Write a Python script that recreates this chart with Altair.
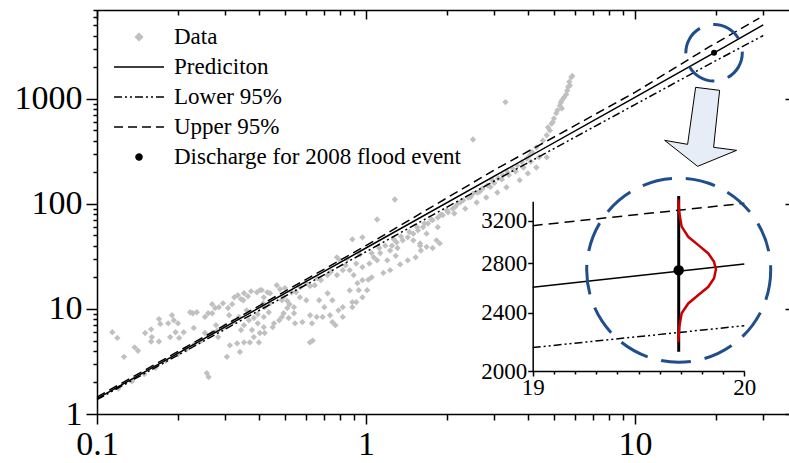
import altair as alt
import pandas as pd

FONT = "Liberation Serif"
GRAY = "#c0c0c0"
BLUE = "#1f4e8c"

# ---------------- data ----------------
data_x = [0.114, 0.119, 0.126, 0.138, 0.142, 0.151, 0.159, 0.160, 0.159, 0.170, 0.172, 0.170, 0.184, 0.190,
          0.193, 0.200, 0.187, 0.196, 0.202, 0.210, 0.229, 0.222, 0.227, 0.235, 0.252, 0.259, 0.268, 0.275,
          0.284, 0.294, 0.307, 0.318, 0.256, 0.260, 0.252, 0.268, 0.282, 0.297, 0.277, 0.304, 0.312, 0.310,
          0.268, 0.12, 0.135, 0.15, 0.165, 0.18, 0.2, 0.215, 0.23, 0.245, 0.26, 0.28, 0.3, 0.32,
          0.332, 0.352, 0.370, 0.383, 0.400, 0.403, 0.417, 0.396, 0.377, 0.343, 0.352, 0.367, 0.383, 0.396,
          0.417, 0.324, 0.334, 0.343, 0.352, 0.364, 0.374, 0.393, 0.403, 0.417, 0.440, 0.466, 0.479, 0.494,
          0.510, 0.520, 0.540, 0.494, 0.476, 0.516, 0.540, 0.455, 0.420, 0.435, 0.337, 0.360,
          0.340, 0.619, 0.634, 0.420, 0.450, 0.487, 0.545, 0.580, 0.620, 0.656, 0.690, 0.750, 0.770, 0.820,
          0.890, 0.920, 0.970, 0.940, 1.01, 1.05, 1.16, 1.10, 1.20, 1.29, 0.67, 0.70, 0.72, 0.75, 0.60,
          0.568, 0.51, 0.487, 0.44, 0.415, 0.35, 0.41, 0.43, 0.50, 0.53, 0.57, 0.60, 0.645, 0.68, 0.72,
          0.78, 0.82, 0.87, 0.90, 0.92, 0.97, 1.03, 1.07, 1.13, 1.23, 1.31, 0.78, 0.80, 0.85, 0.89, 0.97,
          1.10, 1.28,
          0.87, 0.93, 0.97, 1.02, 1.23, 1.34, 1.43, 1.53, 1.60, 1.77, 1.88, 0.63, 0.735, 0.79, 0.82, 0.89,
          1.59, 1.68, 1.83,
          1.25, 1.30, 1.37, 1.43, 1.50, 1.56, 1.63, 1.70, 1.77, 1.85, 1.93, 2.02, 2.10, 2.20, 2.30, 2.40,
          2.50, 2.60, 2.71, 2.83, 2.95, 3.10, 3.23, 3.36, 3.50, 3.65, 3.80, 3.96, 4.07, 4.15, 4.30,
          1.85, 1.68, 1.59, 1.50, 2.13, 2.34, 2.58, 2.80, 3.08, 3.33, 3.73, 4.00, 4.30, 4.70,
          4.55, 4.70, 4.83, 4.75, 4.90, 4.95, 5.00, 5.10, 5.15, 5.35, 5.26, 5.30, 5.35, 5.45, 5.55, 5.60,
          5.73, 5.65, 5.70, 5.80, 5.85,
          3.3, 2.5,
          1.05, 1.12, 1.18, 1.27, 1.35, 1.45, 1.55, 1.65, 1.75, 1.90, 2.00, 2.15, 2.25, 2.45, 2.65, 2.90,
          3.00, 3.20, 3.40, 3.60, 3.85, 4.10, 4.40, 0.55, 0.62, 0.66, 0.74, 0.84, 0.95]
data_y = [6.0, 5.3, 3.5, 4.3, 4.0, 5.9, 6.4, 5.4, 4.9, 8.0, 7.2, 4.9, 7.3, 8.7,
          7.8, 7.3, 5.4, 6.0, 5.3, 6.0, 6.6, 9.3, 9.1, 9.3, 8.4, 9.1, 11.1, 10.2,
          10.4, 11.3, 10.2, 11.1, 2.45, 2.25, 5.9, 5.9, 5.4, 6.7, 7.0, 3.5, 4.5, 8.7,
          9.1, 1.75, 2.05, 2.4, 2.75, 3.2, 3.7, 4.1, 4.6, 5.0, 5.5, 6.2, 6.9, 7.5,
          4.7, 4.8, 4.8, 5.4, 4.8, 5.9, 6.7, 7.3, 6.3, 6.3, 7.0, 7.8, 8.2, 8.9,
          8.4, 12.9, 13.5, 12.4, 14.1, 13.2, 14.7, 14.4, 15.1, 12.9, 14.1, 16.8, 15.4, 12.9,
          11.9, 11.1, 10.4, 9.1, 7.8, 8.2, 9.1, 7.3, 10.4, 9.3, 8.4, 9.7,
          3.9, 4.8, 5.0, 5.9, 6.7, 8.4, 7.3, 7.5, 8.7, 8.4, 8.4, 7.5, 7.0, 8.4,
          10.4, 11.6, 12.9, 15.1, 15.1, 20, 22, 29, 29, 32, 12.1, 10.4, 14.1, 12.1, 12.1,
          12.9, 10.2, 12.1, 11.3, 11.3, 12.1, 15.1, 14.4, 15.8, 14.4, 16.1, 17.6, 16.8, 18.8, 21,
          21, 23.4, 23.4, 21, 27, 25, 27, 31, 34, 36, 38, 31, 29, 30, 46, 48,
          71, 110,
          15, 17.6, 18.8, 19, 23.4, 26.5, 29, 31, 36, 38, 42, 7.3, 8.7, 9.7, 10.4, 11.6,
          42, 39, 45,
          40, 43, 45, 48, 52, 56, 60, 65, 70, 74, 78, 83, 90, 101, 108, 115,
          125, 128, 140, 150, 168, 175, 187, 200, 218, 232, 250, 270, 290, 310, 345,
          60, 52, 40, 45, 81, 90, 103, 115, 128, 144, 168, 195, 222, 277,
          400, 450, 500, 535, 580, 600, 650, 730, 776, 810, 860, 920, 966, 1030, 1100, 1200,
          1340, 1300, 1450, 1600, 1650,
          930, 410,
          34, 38, 40, 46, 49, 54, 60, 65, 71, 79, 87, 94, 104, 116, 131, 145,
          158, 171, 188, 203, 222, 252, 278, 14.5, 16.5, 19.5, 22.5, 26, 33]

pred_x = [0.1, 1, 10, 19, 20, 30]
pred_y = [1.4, 38, 1030, 2600, 2795, 5050]
lower_x = [0.1, 1, 3, 10, 19, 20, 30]
lower_y = [1.37, 35, 165, 880, 2150, 2305, 4000]
upper_x = [0.1, 1, 3, 10, 19, 20, 29]
upper_y = [1.45, 40, 210, 1150, 3150, 3380, 5850]

flood_x = [19.69]
flood_y = [2740]

arrow_x = [17.4]
arrow_y = [535]

inset_x = [19, 20]
inset_pred = [2598, 2794]
inset_upper = [3150, 3378]
inset_lower = [2152, 2304]
bar_low = [2124]
bar_high = [3455]
curve_x = [19.688, 19.693, 19.704, 19.735, 19.783, 19.830, 19.857, 19.866, 19.857, 19.830, 19.783,
           19.735, 19.704, 19.693, 19.688]
curve_y = [3420, 3274, 3140, 3042, 2964, 2888, 2813, 2748, 2672, 2602, 2536, 2470, 2396, 2296, 2188]

X_TICKS = [0.1, 0.2, 0.3, 0.4, 0.5, 0.6, 0.7, 0.8, 0.9, 1, 2, 3, 4, 5, 6, 7, 8, 9, 10, 20, 30]
X_MAJOR = [0.1, 1, 10]
Y_TICKS = [1, 2, 3, 4, 5, 6, 7, 8, 9, 10, 20, 30, 40, 50, 60, 70, 80, 90,
           100, 200, 300, 400, 500, 600, 700, 800, 900, 1000, 2000, 3000, 4000, 5000, 6000, 7000]
Y_MAJOR = [1, 10, 100, 1000]
INSET_X_TICKS = [19, 19.1, 19.2, 19.3, 19.4, 19.5, 19.6, 19.7, 19.8, 19.9, 20]
INSET_X_MAJOR = [19, 20]
INSET_Y_TICKS = [2000, 2400, 2800, 3200]

SERIES = ["Data", "Prediciton", "Lower 95%", "Upper 95%", "Discharge for 2008 flood event"]

# ---------------- styles ----------------
DASH_UP = [9, 5]
DASH_LOW = [8, 3, 2, 3, 2, 3]
ARROW_PATH = "M-0.1,-1L0.5,-0.925L0.35,0.5L0.925,0.575L-0.05,0.975L-0.875,0.325L-0.3,0.425Z"
LINE_PATH = "M-1,0L1,0"
DIAMOND_PATH = "M0,-0.14L0.14,0L0,0.14L-0.14,0Z"
DOT_PATH = "M0.12,0A0.12,0.12,0,1,1,-0.12,0A0.12,0.12,0,1,1,0.12,0Z"


def is_in(lst):
    return "indexof(" + str(lst) + ", datum.value) >= 0"


common = dict(grid=False, title=None, labelFont=FONT, labelColor="black", tickColor="black",
              domainColor="black", domainWidth=1.5, tickWidth=1.5, labelFlush=False, labelOverlap=False)

x_axis = alt.Axis(orient="bottom", values=X_TICKS, labelFontSize=34, labelPadding=3,
                  labelExpr=is_in(X_MAJOR) + " ? format(datum.value, '~g') : ''",
                  tickSize=alt.ExprRef(expr=is_in(X_MAJOR) + " ? 10 : 6"), **common)
y_axis = alt.Axis(orient="left", values=Y_TICKS, labelFontSize=34, labelPadding=4,
                  labelExpr=is_in(Y_MAJOR) + " ? format(datum.value, 'd') : ''",
                  tickSize=alt.ExprRef(expr=is_in(Y_MAJOR) + " ? 11 : 4"), **common)
top_axis = alt.Axis(orient="top", values=X_TICKS, labels=False,
                    tickSize=alt.ExprRef(expr=is_in(X_MAJOR) + " ? -9 : -5"), **common)
right_axis = alt.Axis(orient="right", values=Y_MAJOR, labels=False, domain=False,
                      tickSize=alt.ExprRef(expr="-4"), **common)

X_DOMAIN = [0.1, 37.4]
Y_DOMAIN = [1, 7000]


def xs():
    return alt.Scale(type="log", domain=X_DOMAIN, nice=False)


def ys():
    return alt.Scale(type="log", domain=Y_DOMAIN, nice=False)


def main_enc(ch):
    return ch.encode(x=alt.X("x:Q", scale=xs(), axis=x_axis),
                     y=alt.Y("y:Q", scale=ys(), axis=y_axis))


scatter_df = pd.DataFrame({"x": data_x, "y": data_y})
pred_df = pd.DataFrame({"x": pred_x, "y": pred_y})
lower_df = pd.DataFrame({"x": lower_x, "y": lower_y})
upper_df = pd.DataFrame({"x": upper_x, "y": upper_y})
flood_df = pd.DataFrame({"x": flood_x, "y": flood_y})
arrow_df = pd.DataFrame({"x": arrow_x, "y": arrow_y})

scatter = main_enc(alt.Chart(scatter_df).mark_point(shape="diamond", filled=True, size=40,
                                                     color=GRAY, opacity=1))
pred_line = main_enc(alt.Chart(pred_df).mark_line(color="black", strokeWidth=1.5))
lower_line = main_enc(alt.Chart(lower_df).mark_line(color="black", strokeWidth=1.5, strokeDash=DASH_LOW))
upper_line = main_enc(alt.Chart(upper_df).mark_line(color="black", strokeWidth=1.5, strokeDash=DASH_UP))
small_circle = main_enc(alt.Chart(flood_df).mark_point(shape="circle", filled=False, size=3190,
                                                        stroke=BLUE, strokeWidth=3,
                                                        strokeDash=[30, 14], opacity=1))
flood_pt = main_enc(alt.Chart(flood_df).mark_circle(size=36, color="black", opacity=1))
arrow = main_enc(alt.Chart(arrow_df).mark_point(shape=ARROW_PATH, size=6400, filled=True,
                                                 fill="#e6edf7", stroke="black", strokeWidth=1,
                                                 opacity=1))

main = alt.layer(scatter, pred_line, lower_line, upper_line, small_circle, flood_pt, arrow)

frame = alt.Chart(pred_df).mark_point(opacity=0).encode(
    x=alt.X("x:Q", scale=xs(), axis=top_axis),
    y=alt.Y("y:Q", scale=ys(), axis=right_axis),
)

# ---------------- inset ----------------
ix_axis = alt.Axis(orient="bottom", offset=-43, values=INSET_X_TICKS, labelFontSize=23, labelPadding=0,
                   labelExpr=is_in(INSET_X_MAJOR) + " ? format(datum.value, 'd') : ''",
                   tickSize=alt.ExprRef(expr=is_in(INSET_X_MAJOR) + " ? 5 : 3"), **common)
iy_axis = alt.Axis(orient="left", offset=-435.7, values=INSET_Y_TICKS, labelFontSize=23, labelPadding=1,
                   format="d", tickSize=5, **common)


def ixs():
    return alt.Scale(type="linear", domain=[19, 20], range=[435.7, 647.3], nice=False, zero=False)


def iys():
    return alt.Scale(type="log", domain=[2000, 3400], range=[361, 191.2], nice=False)


def inset_enc(ch, with_y2=False):
    enc = dict(x=alt.X("x:Q", scale=ixs(), axis=ix_axis),
               y=alt.Y("y:Q", scale=iys(), axis=iy_axis))
    if with_y2:
        enc["y2"] = alt.Y2("y2:Q")
    return ch.encode(**enc)


ip_df = pd.DataFrame({"x": inset_x, "y": inset_pred})
iu_df = pd.DataFrame({"x": inset_x, "y": inset_upper})
il_df = pd.DataFrame({"x": inset_x, "y": inset_lower})
bar_df = pd.DataFrame({"x": flood_x, "y": bar_low, "y2": bar_high})
curve_df = pd.DataFrame({"x": curve_x, "y": curve_y, "i": list(range(len(curve_x)))})

i_upper = inset_enc(alt.Chart(iu_df).mark_line(color="black", strokeWidth=1.5, strokeDash=[10, 6]))
i_pred = inset_enc(alt.Chart(ip_df).mark_line(color="black", strokeWidth=1.5))
i_lower = inset_enc(alt.Chart(il_df).mark_line(color="black", strokeWidth=1.5, strokeDash=DASH_LOW))
i_bar = inset_enc(alt.Chart(bar_df).mark_rule(color="black", strokeWidth=3), with_y2=True)
i_curve = inset_enc(alt.Chart(curve_df).mark_line(color="#cc0000", strokeWidth=2.5)).encode(order="i:Q")
i_circle = inset_enc(alt.Chart(flood_df).mark_point(shape="circle", filled=False, size=33856,
                                                     stroke=BLUE, strokeWidth=3,
                                                     strokeDash=[30, 14], opacity=1))
i_point = inset_enc(alt.Chart(flood_df).mark_circle(size=110, color="black", opacity=1))

inset = alt.layer(i_upper, i_pred, i_lower, i_bar, i_curve, i_circle, i_point)

# ---------------- legend ----------------
LEG = alt.Legend(title=None, orient="none", legendX=16, legendY=15.5, padding=0, clipHeight=23,
                 rowPadding=6, labelFont=FONT, labelFontSize=23, labelColor="black", labelOffset=9,
                 labelLimit=500, symbolStrokeWidth=1.5, symbolSize=2500, direction="vertical")
legend_df = pd.DataFrame({"series": SERIES})
legend_layer = alt.Chart(legend_df).transform_filter("false").mark_point(size=2500, opacity=1).encode(
    fill=alt.Fill("series:N", scale=alt.Scale(domain=SERIES,
                                              range=[GRAY, "transparent", "transparent", "transparent", "black"]),
                  legend=LEG),
    stroke=alt.Stroke("series:N", scale=alt.Scale(domain=SERIES,
                                                  range=[GRAY, "black", "black", "black", "black"]),
                      legend=LEG),
    shape=alt.Shape("series:N", scale=alt.Scale(domain=SERIES,
                                                range=[DIAMOND_PATH, LINE_PATH, LINE_PATH, LINE_PATH, DOT_PATH]),
                    legend=LEG),
    strokeDash=alt.StrokeDash("series:N", scale=alt.Scale(domain=SERIES,
                                                          range=[[1, 0], [1, 0], DASH_LOW, DASH_UP, [1, 0]]),
                              legend=LEG),
)

chart = alt.layer(main, frame, inset, legend_layer).resolve_scale(
    x="independent", y="independent"
).properties(
    width=692, height=404,
    padding={"left": 97, "top": 10, "right": 0, "bottom": 49},
    autosize=alt.AutoSizeParams(type="none"),
    background="white",
).configure(
    font=FONT
).configure_axis(
    labelFont=FONT
).configure_view(strokeWidth=0)

chart.save("out.html", embed_options={"renderer": "svg", "actions": False})
